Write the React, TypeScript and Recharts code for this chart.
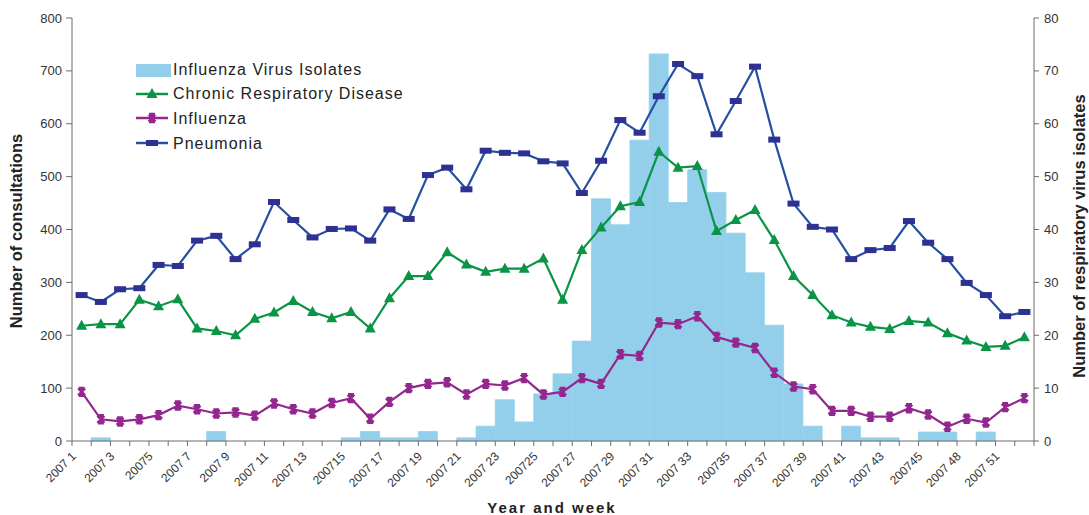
import { ComposedChart, Bar, Line, XAxis, YAxis, Legend, Label } from 'recharts'

// week categories as printed on the axis (only every 2nd one is shown)
const weekLabels = [
  '2007 1', '2007 2', '2007 3', '2007 4', '20075', '2007 6', '2007 7', '2007 8', '2007 9', '2007 10',
  '2007 11', '2007 12', '2007 13', '2007 14', '200715', '2007 16', '2007 17', '2007 18', '2007 19', '2007 20',
  '2007 21', '2007 22', '2007 23', '2007 24', '200725', '2007 26', '2007 27', '2007 28', '2007 29', '2007 30',
  '2007 31', '2007 32', '2007 33', '2007 34', '200735', '2007 36', '2007 37', '2007 38', '2007 39', '2007 40',
  '2007 41', '2007 42', '2007 43', '2007 44', '200745', '2007 46', '2007 48', '2007 49', '2007 51', '2007 52',
]

const isolates = [
  0, 0.6, 0, 0, 0, 0, 0, 1.8, 0, 0,
  0, 0, 0, 0, 0.6, 1.8, 0.6, 0.6, 1.8, 0,
  0.6, 2.8, 7.8, 3.6, 8.9, 12.7, 18.9, 45.8, 40.9, 56.9,
  73.2, 45.1, 51.3, 47.0, 39.3, 31.8, 21.9, 10.8, 2.8, 0,
  2.8, 0.6, 0.6, 0, 1.7, 1.7, 0, 1.7, 0, 0,
]

const chronic = [
  218, 221, 221, 267, 255, 268, 213, 208, 200, 231,
  243, 265, 244, 232, 244, 213, 270, 312, 312, 357,
  334, 320, 326, 326, 345, 267, 361, 404, 444, 452,
  547, 517, 520, 397, 418, 437, 380, 312, 276, 238,
  224, 216, 212, 227, 224, 204, 190, 178, 180, 196,
]

const influenza = [
  93, 41, 37, 41, 49, 67, 60, 52, 54, 48,
  71, 60, 52, 72, 81, 42, 74, 100, 108, 111,
  88, 108, 105, 119, 88, 93, 119, 108, 164, 161,
  224, 221, 236, 197, 186, 176, 129, 103, 98, 57,
  57, 46, 46, 62, 50, 27, 42, 35, 64, 81,
]

const pneumonia = [
  276, 263, 287, 289, 333, 331, 379, 388, 344, 372,
  452, 418, 385, 401, 402, 379, 438, 420, 503, 517,
  476, 549, 545, 544, 529, 525, 469, 530, 607, 583,
  652, 713, 690, 580, 643, 708, 570, 449, 405, 400,
  344, 361, 365, 416, 375, 344, 299, 276, 236, 244,
]

const leftTicks = [0, 100, 200, 300, 400, 500, 600, 700, 800]
const rightTicks = [0, 10, 20, 30, 40, 50, 60, 70, 80]

const data = weekLabels.map((week, i) => ({
  week,
  isolates: isolates[i],
  chronic: chronic[i],
  influenza: influenza[i],
  pneumonia: pneumonia[i],
}))

const FONT = '"Liberation Sans", Arial, sans-serif'
const BAR_COLOR = '#93cfeb'
const GREEN = '#0a9446'
const PURPLE = '#93278f'
const BLUE_LINE = '#2450a2'
const BLUE_MARK = '#2e3192'
const AXIS = '#6d6d6d'

const PLOT_W = 1089 - 72 - 55
const BAND = PLOT_W / weekLabels.length

const squareDot = (p: any) => (
  <rect key={`p${p.index}`} x={p.cx - 6} y={p.cy - 3} width={12} height={6} fill={BLUE_MARK} />
)
const triangleDot = (p: any) => (
  <path key={`c${p.index}`} d={`M${p.cx},${p.cy - 6} L${p.cx + 5.5},${p.cy + 4} L${p.cx - 5.5},${p.cy + 4} Z`} fill={GREEN} />
)
const starPath = (cx: number, cy: number) =>
  `M${cx - 3.5},${cy - 3.5} L${cx + 3.5},${cy + 3.5} M${cx - 3.5},${cy + 3.5} L${cx + 3.5},${cy - 3.5} M${cx},${cy - 4.5} L${cx},${cy + 4.5} M${cx - 3},${cy - 4} L${cx + 3},${cy - 4} M${cx - 3},${cy + 4} L${cx + 3},${cy + 4}`
const starDot = (p: any) => (
  <path key={`i${p.index}`} d={starPath(p.cx, p.cy)} stroke={PURPLE} strokeWidth={2.4} fill="none" />
)

function WeekTick(props: any) {
  const { x, y, payload, index } = props
  const left = x - BAND / 2
  const tx = x - 5
  const ty = y + 16
  return (
    <g>
      <line x1={left} y1={y} x2={left} y2={y + 5} stroke={AXIS} />
      {index === weekLabels.length - 1 && (
        <line x1={x + BAND / 2} y1={y} x2={x + BAND / 2} y2={y + 5} stroke={AXIS} />
      )}
      {index % 2 === 0 && (
        <text
          x={tx}
          y={ty}
          transform={`rotate(-45 ${tx} ${ty})`}
          textAnchor="end"
          fontSize={12}
          fontFamily={FONT}
          fill="#333"
        >
          {payload.value}
        </text>
      )}
    </g>
  )
}

function ChartLegend() {
  const txt = { fontSize: 16, fontFamily: FONT, fill: '#222', letterSpacing: 1 }
  return (
    <svg width={300} height={100}>
      <rect x={6} y={9} width={35} height={13} fill={BAR_COLOR} />
      <text x={43} y={20} {...txt}>Influenza Virus Isolates</text>
      <line x1={6} y1={39} x2={38} y2={39} stroke={GREEN} strokeWidth={2.5} />
      <path d="M22,33 L27.5,43 L16.5,43 Z" fill={GREEN} />
      <text x={43} y={44} {...txt}>Chronic Respiratory Disease</text>
      <line x1={6} y1={63} x2={38} y2={63} stroke={PURPLE} strokeWidth={2.5} />
      <path d={starPath(22, 63)} stroke={PURPLE} strokeWidth={2.4} fill="none" />
      <text x={43} y={69} {...txt}>Influenza</text>
      <line x1={6} y1={88} x2={38} y2={88} stroke={BLUE_LINE} strokeWidth={2.5} />
      <rect x={16} y={85} width={12} height={6} fill={BLUE_MARK} />
      <text x={43} y={94} {...txt}>Pneumonia</text>
    </svg>
  )
}

export default function App() {
  return (
    <div style={{ position: 'absolute', left: 0, top: 0, background: '#fff' }}>
      <ComposedChart
        width={1089}
        height={515}
        data={data}
        margin={{ top: 18, right: 0, bottom: 0, left: 0 }}
        barCategoryGap={0}
        barGap={0}
      >
        <XAxis
          dataKey="week"
          height={74}
          interval={0}
          tickLine={false}
          tickSize={0}
          tickMargin={0}
          axisLine={{ stroke: AXIS }}
          tick={<WeekTick />}
        >
          <Label
            content={() => (
              <text x={552} y={513} textAnchor="middle" fontSize={15} fontWeight="bold" fontFamily={FONT} letterSpacing={2} fill="#222">
                Year and week
              </text>
            )}
          />
        </XAxis>
        <YAxis
          yAxisId="left"
          width={72}
          domain={[0, 800]}
          ticks={leftTicks}
          interval={0}
          tickSize={6}
          tickMargin={4}
          axisLine={{ stroke: AXIS }}
          tickLine={{ stroke: AXIS }}
          tick={{ fontSize: 13, fontFamily: FONT, fill: '#333' }}
        >
          <Label
            content={() => (
              <text x={22} y={231} transform="rotate(-90 22 231)" textAnchor="middle" fontSize={16.5} fontWeight="bold" fontFamily={FONT} fill="#222">
                Number of consultations
              </text>
            )}
          />
        </YAxis>
        <YAxis
          yAxisId="right"
          orientation="right"
          width={55}
          domain={[0, 80]}
          ticks={rightTicks}
          interval={0}
          tickSize={5}
          tickMargin={5}
          axisLine={{ stroke: AXIS }}
          tickLine={{ stroke: AXIS }}
          tick={{ fontSize: 13, fontFamily: FONT, fill: '#333', textAnchor: 'start' }}
        >
          <Label
            content={() => (
              <text x={1085} y={236} transform="rotate(-90 1085 236)" textAnchor="middle" fontSize={16.5} fontWeight="bold" fontFamily={FONT} fill="#222">
                Number of respiratory virus isolates
              </text>
            )}
          />
        </YAxis>
        <Legend
          layout="vertical"
          align="center"
          verticalAlign="middle"
          content={() => <ChartLegend />}
          wrapperStyle={{ left: 130, top: 55, width: 300, height: 100 }}
        />
        <Bar
          yAxisId="right"
          dataKey="isolates"
          fill={BAR_COLOR}
          stroke={BAR_COLOR}
          strokeWidth={0.8}
          isAnimationActive={false}
        />
        <Line
          yAxisId="left"
          type="linear"
          dataKey="chronic"
          stroke={GREEN}
          strokeWidth={2.2}
          dot={triangleDot}
          activeDot={false}
          isAnimationActive={false}
        />
        <Line
          yAxisId="left"
          type="linear"
          dataKey="influenza"
          stroke={PURPLE}
          strokeWidth={2.2}
          dot={starDot}
          activeDot={false}
          isAnimationActive={false}
        />
        <Line
          yAxisId="left"
          type="linear"
          dataKey="pneumonia"
          stroke={BLUE_LINE}
          strokeWidth={2.2}
          dot={squareDot}
          activeDot={false}
          isAnimationActive={false}
        />
      </ComposedChart>
    </div>
  )
}
